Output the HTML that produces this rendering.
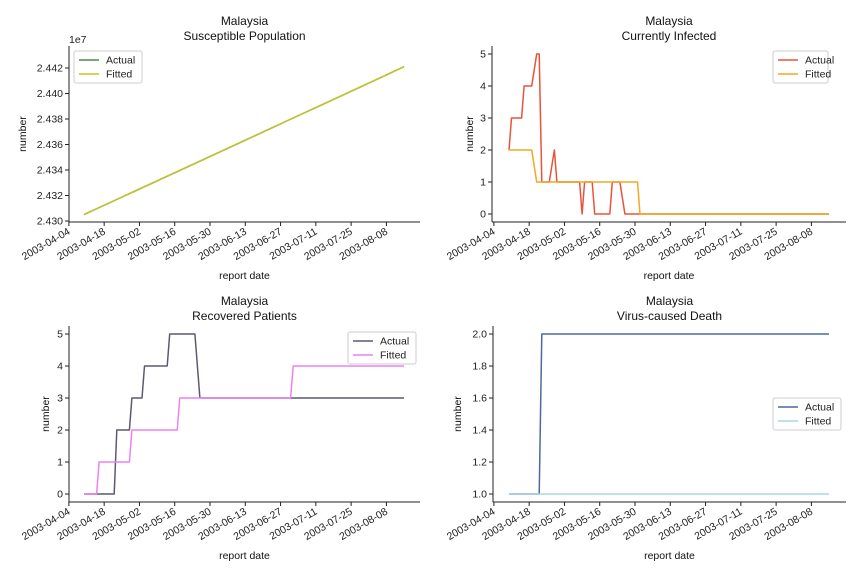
<!DOCTYPE html>
<html><head><meta charset="utf-8"><style>
body{margin:0;background:#fff;}
svg{display:block;font-family:"Liberation Sans","DejaVu Sans",sans-serif;}
</style></head><body>
<svg id="chart" width="864" height="576" viewBox="0 0 864 576"></svg>
<script>
const tickDates=["2003-04-04","2003-04-18","2003-05-02","2003-05-16","2003-05-30","2003-06-13","2003-06-27","2003-07-11","2003-07-25","2003-08-08"];
const startDate="2003-04-10";
const dayCount=128;
const suscDays=[0,16,32,48,64,80,96,112,127];
const suscActual=[24305000,24319600,24334200,24348800,24363400,24378000,24392600,24407200,24421000];
const suscFitted=[24305000,24319600,24334200,24348800,24363400,24378000,24392600,24407200,24421000];
const infActual=[2,3,3,3,3,3,4,4,4,4,4.5,5,5,1,1,1,1,1.5,2,1,1,1,1,1,1,1,1,1,1,0,1,1,1,1,0,0,0,0,0,0,0,1,1,1,1,0.5,0,0,0,0,0,0,0,0,0,0,0,0,0,0,0,0,0,0,0,0,0,0,0,0,0,0,0,0,0,0,0,0,0,0,0,0,0,0,0,0,0,0,0,0,0,0,0,0,0,0,0,0,0,0,0,0,0,0,0,0,0,0,0,0,0,0,0,0,0,0,0,0,0,0,0,0,0,0,0,0,0,0];
const infFitted=[2,2,2,2,2,2,2,2,2,2,1.5,1,1,1,1,1,1,1,1,1,1,1,1,1,1,1,1,1,1,1,1,1,1,1,1,1,1,1,1,1,1,1,1,1,1,1,1,1,1,1,1,1,0,0,0,0,0,0,0,0,0,0,0,0,0,0,0,0,0,0,0,0,0,0,0,0,0,0,0,0,0,0,0,0,0,0,0,0,0,0,0,0,0,0,0,0,0,0,0,0,0,0,0,0,0,0,0,0,0,0,0,0,0,0,0,0,0,0,0,0,0,0,0,0,0,0,0,0];
const recActual=[0,0,0,0,0,0,0,0,0,0,0,0,0,2,2,2,2,2,2,3,3,3,3,3,4,4,4,4,4,4,4,4,4,4,5,5,5,5,5,5,5,5,5,5,5,4,3,3,3,3,3,3,3,3,3,3,3,3,3,3,3,3,3,3,3,3,3,3,3,3,3,3,3,3,3,3,3,3,3,3,3,3,3,3,3,3,3,3,3,3,3,3,3,3,3,3,3,3,3,3,3,3,3,3,3,3,3,3,3,3,3,3,3,3,3,3,3,3,3,3,3,3,3,3,3,3,3,3];
const recFitted=[0,0,0,0,0,0,1,1,1,1,1,1,1,1,1,1,1,1,1,2,2,2,2,2,2,2,2,2,2,2,2,2,2,2,2,2,2,2,3,3,3,3,3,3,3,3,3,3,3,3,3,3,3,3,3,3,3,3,3,3,3,3,3,3,3,3,3,3,3,3,3,3,3,3,3,3,3,3,3,3,3,3,3,4,4,4,4,4,4,4,4,4,4,4,4,4,4,4,4,4,4,4,4,4,4,4,4,4,4,4,4,4,4,4,4,4,4,4,4,4,4,4,4,4,4,4,4,4];
const deathActual=[1,1,1,1,1,1,1,1,1,1,1,1,1,2,2,2,2,2,2,2,2,2,2,2,2,2,2,2,2,2,2,2,2,2,2,2,2,2,2,2,2,2,2,2,2,2,2,2,2,2,2,2,2,2,2,2,2,2,2,2,2,2,2,2,2,2,2,2,2,2,2,2,2,2,2,2,2,2,2,2,2,2,2,2,2,2,2,2,2,2,2,2,2,2,2,2,2,2,2,2,2,2,2,2,2,2,2,2,2,2,2,2,2,2,2,2,2,2,2,2,2,2,2,2,2,2,2,2];
const deathFitted=[1,1,1,1,1,1,1,1,1,1,1,1,1,1,1,1,1,1,1,1,1,1,1,1,1,1,1,1,1,1,1,1,1,1,1,1,1,1,1,1,1,1,1,1,1,1,1,1,1,1,1,1,1,1,1,1,1,1,1,1,1,1,1,1,1,1,1,1,1,1,1,1,1,1,1,1,1,1,1,1,1,1,1,1,1,1,1,1,1,1,1,1,1,1,1,1,1,1,1,1,1,1,1,1,1,1,1,1,1,1,1,1,1,1,1,1,1,1,1,1,1,1,1,1,1,1,1,1];
const suscTicks=[2.430,2.432,2.434,2.436,2.438,2.440,2.442];
const intTicks=[0,1,2,3,4,5];
const deathTicks=[1.0,1.2,1.4,1.6,1.8,2.0];

const NS="http://www.w3.org/2000/svg";
const svg=document.getElementById('chart');
function mk(tag,attrs,parent){const e=document.createElementNS(NS,tag);for(const k in attrs)e.setAttribute(k,attrs[k]);(parent||svg).appendChild(e);return e;}
function dayOf(s){return Math.round((Date.parse(s)-Date.parse(startDate))/86400000);}

function panel(p){
  const g=mk('g',{});
  
  
  const xs=d=>p.x0+d*2.52;
  const ys=v=>p.yb-(v-p.v0)*p.ppu;
  const sp1=mk('line',{x1:p.left,y1:p.top,x2:p.left,y2:p.bottom,stroke:'#222','stroke-width':1},g);
  
  const sp2=mk('line',{x1:p.left,y1:p.bottom,x2:p.right,y2:p.bottom,stroke:'#222','stroke-width':1},g);
  
  p.yticks.forEach(v=>{
    const y=ys(v*p.tickMul);
    mk('line',{x1:p.left-4,y1:y,x2:p.left,y2:y,stroke:'#222'},g);
    const t=mk('text',{x:p.left-6,y:y+3.7,'font-size':10.5,'text-anchor':'end',fill:'#222'},g);
    t.textContent=v.toFixed(p.dec);
    
  });
  tickDates.forEach(s=>{
    const x=xs(dayOf(s));
    mk('line',{x1:x,y1:p.bottom,x2:x,y2:p.bottom+4,stroke:'#222'},g);
    const t=mk('text',{x:x,y:p.bottom+12,'font-size':10.5,'text-anchor':'end',fill:'#222',transform:`rotate(-30 ${x} ${p.bottom+8})`},g);
    t.textContent=s;
    
  });
  const cx=(p.left+p.right)/2;
  const t1=mk('text',{x:cx,y:p.top-21,'font-size':12,'text-anchor':'middle',fill:'#111'},g);t1.textContent='Malaysia';
  
  const t2=mk('text',{x:cx,y:p.top-6,'font-size':12,'text-anchor':'middle',fill:'#111'},g);t2.textContent=p.title;
  
  const xl=mk('text',{x:cx,y:p.bottom+57,'font-size':10.5,'text-anchor':'middle',fill:'#111'},g);xl.textContent='report date';
  
  const ym=(p.top+p.bottom)/2;
  const yl=mk('text',{x:p.ylx,y:ym,'font-size':10.5,'text-anchor':'middle',fill:'#111',transform:`rotate(-90 ${p.ylx} ${ym})`},g);yl.textContent='number';
  
  if(p.exp){const e=mk('text',{x:p.left,y:p.top-3,'font-size':10.5,fill:'#222'},g);e.textContent=p.exp;
    }
  p.series.forEach(s=>{
    const days=s.days||s.vals.map((_,i)=>i);
    const pts=s.vals.map((v,i)=>xs(days[i]).toFixed(1)+','+ys(v).toFixed(1)).join(' ');
    const l=mk('polyline',{points:pts,fill:'none',stroke:s.color,'stroke-width':1.5,'stroke-linejoin':'round'},g);
    
  });
  const L=p.legend;
  const lb=mk('rect',{x:L.x,y:L.y,width:L.w,height:32,rx:2,fill:'#fff','fill-opacity':0.85,stroke:'#ccc'},g);
  
  p.series.forEach((s,i)=>{
    const y=L.y+9+i*14;
    mk('line',{x1:L.x+5,y1:y,x2:L.x+25,y2:y,stroke:s.color,'stroke-width':1.5},g);
    const t=mk('text',{x:L.x+32,y:y+3.7,'font-size':10.5,fill:'#222'},g);t.textContent=s.label;
    
  });
}

panel({name:'susceptible-panel',title:'Susceptible Population',left:69,right:420,top:46,bottom:222,x0:84,yb:221,v0:24300000,ppu:153/120000,tickMul:1e7,yticks:suscTicks,dec:3,ylx:26,exp:'1e7',
  legend:{x:74,y:51,w:68},
  series:[{name:'susceptible-actual-line',label:'Actual',color:'#4d8a4d',vals:suscActual,days:suscDays},
          {name:'susceptible-fitted-line',label:'Fitted',color:'#c2c42a',vals:suscFitted,days:suscDays}]});
panel({name:'infected-panel',title:'Currently Infected',left:492,right:846,top:46,bottom:222,x0:509,yb:214,v0:0,ppu:32,tickMul:1,yticks:intTicks,dec:0,ylx:473,
  legend:{x:773,y:51,w:55},
  series:[{name:'infected-actual-line',label:'Actual',color:'#e8533a',vals:infActual},
          {name:'infected-fitted-line',label:'Fitted',color:'#f5a623',vals:infFitted}]});
panel({name:'recovered-panel',title:'Recovered Patients',left:69,right:420,top:326,bottom:502,x0:84,yb:494,v0:0,ppu:32,tickMul:1,yticks:intTicks,dec:0,ylx:49,
  legend:{x:348,y:332,w:68},
  series:[{name:'recovered-actual-line',label:'Actual',color:'#5c5a70',vals:recActual},
          {name:'recovered-fitted-line',label:'Fitted',color:'#ee82ee',vals:recFitted}]});
panel({name:'death-panel',title:'Virus-caused Death',left:493,right:846,top:326,bottom:502,x0:509,yb:494,v0:1,ppu:160,tickMul:1,yticks:deathTicks,dec:1,ylx:461,
  legend:{x:773,y:398,w:68},
  series:[{name:'death-actual-line',label:'Actual',color:'#4c6a9c',vals:deathActual},
          {name:'death-fitted-line',label:'Fitted',color:'#a6d8e0',vals:deathFitted}]});
</script>
</body></html>
